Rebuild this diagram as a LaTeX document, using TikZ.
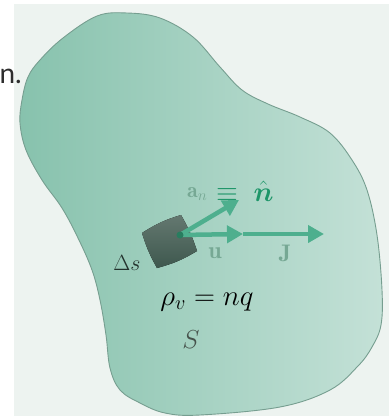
\RequirePackage{fix-cm}
\documentclass[tikz,border=0pt]{standalone}
\usepackage{amsmath,bm}
\usepackage{fontspec}
\usepackage{xcolor}
\usetikzlibrary{arrows.meta,calc}

\definecolor{bgc}{RGB}{237,243,240}
\definecolor{blobL}{RGB}{135,194,173}
\definecolor{blobR}{RGB}{196,225,215}
\definecolor{edge}{RGB}{118,158,144}
\definecolor{patchT}{RGB}{100,120,112}
\definecolor{patchB}{RGB}{62,88,78}
\definecolor{arr}{RGB}{78,175,142}
\definecolor{lblc}{RGB}{118,168,148}
\definecolor{grn}{RGB}{30,150,105}
\definecolor{dotc}{RGB}{40,125,95}
\newfontfamily\txtfont{Lato}

\begin{document}
\begin{tikzpicture}[x=1pt, y=-1pt,
  blob/.style={left color=blobL, right color=blobR, draw=edge, line width=0.9pt},
  patch/.style={top color=patchT, bottom color=patchB, draw=none},
  vec/.style={draw=arr, line width=4.5pt, -{Triangle[length=16pt,width=17pt]}},
  lbl/.style={text=lblc, inner sep=0pt, font=\fontsize{24}{28}\selectfont},
  sym/.style={inner sep=0pt, anchor=base}]
\useasboundingbox (0,0) rectangle (389,418);
\clip (0,0) rectangle (389,418);
\fill[bgc] (14,4) rectangle (389,416);
\node[anchor=base east, inner sep=0pt, text={rgb,255:red,45;green,45;blue,45},
  font=\txtfont\fontsize{28}{32}\selectfont] (frag) at (22,83) {n.};

% the surface S
\draw[blob] plot[smooth cycle, tension=0.6] coordinates {
  (127,13) (160,18) (193,37) (220,67) (242,90) (268,104) (300,117)
  (330,133) (352,160) (367,190) (377,235) (382,290) (381,325) (372,347)
  (358,366) (330,390) (280,407) (200,415) (165,413) (140,403) (120,390)
  (110,368) (106,335) (100,300) (92,270) (78,238) (62,208) (42,180)
  (26,150) (20,123) (22,100) (28,77) (40,60) (63,38) (97,16)};

% element Delta s
\fill[patch] (142,233) to[bend left=8] (181,215) to[bend left=6] (197,251)
  to[bend left=8] (157,268) to[bend left=6] cycle;

\coordinate (o) at (180,235);
\coordinate (ntip) at (239,200);
\coordinate (utip) at (243,234);
\coordinate (jtip) at (324,234);
\draw[vec] (o) -- (ntip);
\draw[vec] (o) -- (utip);
\draw[vec] (utip) -- (jtip);
\fill[dotc] (o) circle (3.5pt);

\node[lbl, anchor=base west, font=\fontsize{22}{26}\selectfont] (an) at (187,197)
  {$\mathbf{a}_n$};
\node[sym, anchor=base west, text=grn, font=\fontsize{28}{32}\selectfont] (nh)
  at (216,201) {$\equiv\;\hat{\bm{n}}$};
\node[lbl, anchor=base] (u) at (215,258) {$\mathbf{u}$};
\node[lbl, anchor=base] (J) at (285,261) {$\mathbf{J}$};
\node[sym, text={rgb,255:red,35;green,50;blue,45}, font=\fontsize{22}{26}\selectfont]
  (ds) at (127,270) {$\Delta s$};
\node[sym, font=\fontsize{29}{34}\selectfont] (rho) at (207,305) {$\rho_v = nq$};
\node[sym, text={rgb,255:red,70;green,82;blue,76}, font=\fontsize{26}{30}\selectfont]
  (S) at (191,348) {$S$};
\end{tikzpicture}
\end{document}
